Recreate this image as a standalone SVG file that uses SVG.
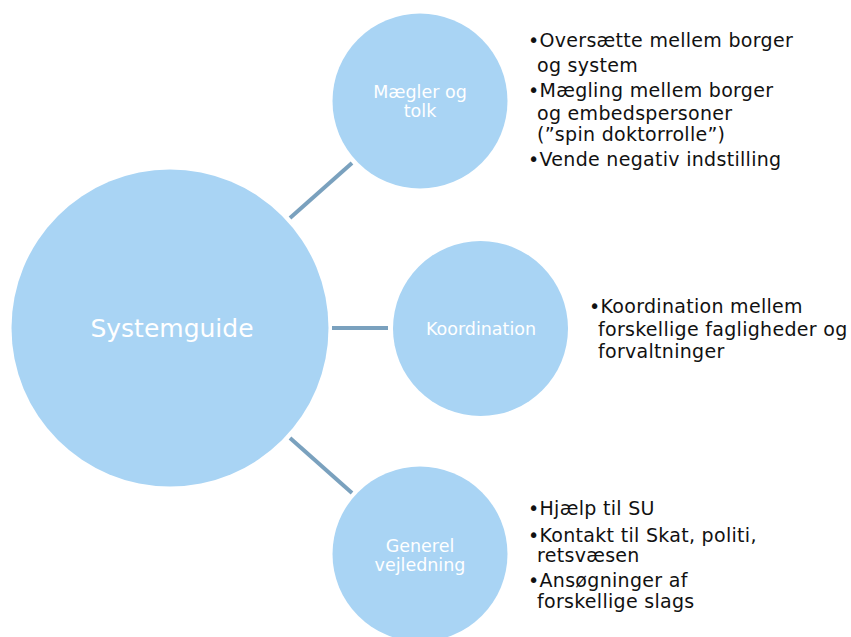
<svg xmlns="http://www.w3.org/2000/svg" width="851" height="637" viewBox="0 0 851 637">
  <style>
    .node { fill: #A9D4F4; }
    .label { fill: #ffffff; font-family: "DejaVu Sans", Verdana, sans-serif; text-anchor: middle; }
    .bul { fill: #111111; font-family: "DejaVu Sans", Verdana, sans-serif; font-size: 19px; letter-spacing: 0.3px; }
    .conn { stroke: #7AA1BE; stroke-width: 4; fill: none; }
  </style>
  <rect width="851" height="637" fill="#ffffff"/>

  <!-- connectors between the hub and the three topics -->
  <g id="connectors">
    <line class="conn" x1="290" y1="218" x2="352" y2="163"/>
    <line class="conn" x1="332" y1="328" x2="388" y2="328"/>
    <line class="conn" x1="290" y1="438" x2="352" y2="493"/>
  </g>

  <g id="systemguide">
    <circle class="node" cx="170" cy="328" r="158.5"/>
    <text class="label" x="172" y="337" font-size="25">Systemguide</text>
  </g>

  <g id="maegler">
    <circle class="node" cx="420" cy="101" r="87.5"/>
    <text class="label" font-size="17.5"><tspan x="420" y="98">Mægler og</tspan><tspan x="420" y="117">tolk</tspan></text>
  </g>

  <g id="koordination">
    <circle class="node" cx="480.5" cy="328.5" r="87.5"/>
    <text class="label" x="481" y="335" font-size="17.5">Koordination</text>
  </g>

  <g id="vejledning">
    <circle class="node" cx="420" cy="554" r="87.5"/>
    <text class="label" font-size="17.5"><tspan x="420" y="552">Generel</tspan><tspan x="420" y="571">vejledning</tspan></text>
  </g>

  <!-- bullet lists beside each topic -->
  <g id="list-maegler">
    <text class="bul" x="528" y="47">•Oversætte mellem borger</text>
    <text class="bul" x="537" y="71.5">og system</text>
    <text class="bul" x="528" y="97">•Mægling mellem borger</text>
    <text class="bul" x="537" y="119.5">og embedspersoner</text>
    <text class="bul" x="537" y="141">(”spin doktorrolle”)</text>
    <text class="bul" x="528" y="166">•Vende negativ indstilling</text>
  </g>

  <g id="list-koordination">
    <text class="bul" x="589" y="313">•Koordination mellem</text>
    <text class="bul" x="598" y="335.5">forskellige fagligheder og</text>
    <text class="bul" x="598" y="358">forvaltninger</text>
  </g>

  <g id="list-vejledning">
    <text class="bul" x="528" y="515">•Hjælp til SU</text>
    <text class="bul" x="528" y="541.5">•Kontakt til Skat, politi,</text>
    <text class="bul" x="537" y="562">retsvæsen</text>
    <text class="bul" x="528" y="587">•Ansøgninger af</text>
    <text class="bul" x="537" y="608">forskellige slags</text>
  </g>
</svg>
